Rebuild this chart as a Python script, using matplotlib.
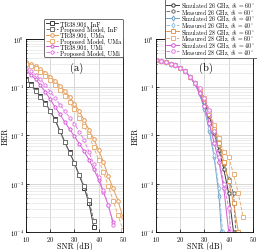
import numpy as np
import matplotlib
matplotlib.use("Agg")
import matplotlib.pyplot as plt

plt.rcParams.update({
    "font.family": "serif",
    "font.serif": ["cmr10", "DejaVu Serif"],
    "mathtext.fontset": "cm",
    "axes.formatter.use_mathtext": True,
    "axes.unicode_minus": False,
})

# ---------------- Panel (a) data ----------------
snr_inf = [10, 12, 14, 16, 18, 20, 22, 24, 26, 28, 30, 32, 34, 36, 38]
log_inf_tr = [-0.83, -0.94, -1.06, -1.19, -1.33, -1.49, -1.67, -1.90, -2.13, -2.35, -2.57, -2.83, -3.08, -3.40, -3.90]
log_inf_pm = [-0.85, -0.96, -1.08, -1.20, -1.34, -1.50, -1.68, -1.91, -2.14, -2.36, -2.58, -2.82, -3.05, -3.33, -3.78]

snr_uma = [10, 12, 14, 16, 18, 20, 22, 24, 26, 28, 30, 32, 34, 36, 38, 40, 42, 44, 46, 48, 50]
log_uma_tr = [-0.48, -0.52, -0.57, -0.63, -0.70, -0.78, -0.87, -0.97, -1.08, -1.20, -1.34, -1.50, -1.68, -1.88, -2.08, -2.30, -2.55, -2.85, -3.10, -3.35, -3.70]
log_uma_pm = [-0.52, -0.56, -0.61, -0.68, -0.76, -0.85, -0.95, -1.06, -1.18, -1.31, -1.46, -1.63, -1.81, -2.01, -2.25, -2.50, -2.76, -3.05, -3.35, -3.65, -3.95]

snr_umi = [10, 12, 14, 16, 18, 20, 22, 24, 26, 28, 30, 32, 34, 36, 38, 40, 42, 44, 46]
log_umi_tr = [-0.66, -0.74, -0.84, -0.96, -1.10, -1.25, -1.41, -1.56, -1.72, -1.87, -2.02, -2.17, -2.33, -2.50, -2.70, -2.92, -3.18, -3.45, -3.80]
log_umi_pm = [-0.60, -0.66, -0.74, -0.84, -0.96, -1.09, -1.22, -1.36, -1.50, -1.63, -1.76, -1.92, -2.10, -2.34, -2.60, -2.87, -3.14, -3.44, -3.86]

# ---------------- Panel (b) data ----------------
snr_b_common = [10, 12, 14, 16, 18, 20, 22, 24, 26]
log_b_common = [-0.44, -0.46, -0.48, -0.51, -0.55, -0.60, -0.67, -0.78, -0.92]

snr_s26_60 = [28, 30, 32, 34, 36, 38, 40, 42]
log_s26_60 = [-1.08, -1.30, -1.60, -1.95, -2.30, -2.70, -3.20, -4.00]
snr_m26_60 = [28, 30, 32, 34, 36, 38, 40, 42, 43]
log_m26_60 = [-1.05, -1.25, -1.55, -1.90, -2.22, -2.60, -2.90, -3.20, -4.00]
snr_s26_40 = [28, 30, 32, 34, 36, 37]
log_s26_40 = [-1.15, -1.45, -1.90, -2.45, -3.25, -4.00]
snr_m26_40 = [28, 30, 32, 34, 36, 37.5]
log_m26_40 = [-1.12, -1.40, -1.85, -2.40, -3.10, -4.00]
snr_s28_60 = [28, 30, 32, 34, 36, 38, 40, 42, 44]
log_s28_60 = [-1.05, -1.25, -1.55, -1.85, -2.15, -2.55, -2.95, -3.40, -4.00]
snr_m28_60 = [28, 30, 32, 34, 36, 38, 40, 42, 44, 46]
log_m28_60 = [-1.03, -1.22, -1.50, -1.78, -2.05, -2.35, -2.45, -2.80, -3.20, -3.70]
snr_s28_40 = [28, 30, 32, 34, 36, 38, 40]
log_s28_40 = [-1.12, -1.40, -1.75, -2.15, -2.55, -3.10, -4.00]
snr_m28_40 = [28, 30, 32, 34, 36, 38, 40, 41]
log_m28_40 = [-1.02, -1.22, -1.48, -1.90, -2.45, -3.00, -3.50, -4.00]

labels_a = ["TR38.901, InF", "Proposed Model, InF", "TR38.901, UMa",
            "Proposed Model, UMa", "TR38.901, UMi", "Proposed Model, UMi"]
labels_b = [r"Simulated 26 GHz, $\vartheta_t$ = 60$^\circ$",
            r"Measured 26 GHz, $\vartheta_t$ = 60$^\circ$",
            r"Simulated 26 GHz, $\vartheta_t$ = 40$^\circ$",
            r"Measured 26 GHz, $\vartheta_t$ = 40$^\circ$",
            r"Simulated 28 GHz, $\vartheta_t$ = 60$^\circ$",
            r"Measured 28 GHz, $\vartheta_t$ = 60$^\circ$",
            r"Simulated 28 GHz, $\vartheta_t$ = 40$^\circ$",
            r"Measured 28 GHz, $\vartheta_t$ = 40$^\circ$"]

BLACK = "#3c3c3c"
GRAY = "#6e6e6e"
ORANGE = "#e59a50"
ORANGE_L = "#eab07a"
MAGENTA = "#d65ad6"
MAGENTA_L = "#e27ee2"
BLUE = "#6fa3c8"
BLUE_L = "#9cc3de"

fig = plt.figure(figsize=(2.57, 2.51), dpi=100)
axa = fig.add_axes([0.101, 0.072, 0.377, 0.769])
axb = fig.add_axes([0.607, 0.072, 0.377, 0.769])

lw = 0.7
ms = 2.6

def plot(ax, x, logy, color, marker, ls, label):
    ax.semilogy(x, 10.0 ** np.asarray(logy), color=color, ls=ls, lw=lw,
                marker=marker, ms=ms, mfc="white", mec=color, mew=0.7,
                label=label)

plot(axa, snr_inf, log_inf_tr, BLACK, "s", "-", labels_a[0])
plot(axa, snr_inf, log_inf_pm, GRAY, "s", "--", labels_a[1])
plot(axa, snr_uma, log_uma_tr, ORANGE, "o", "-", labels_a[2])
plot(axa, snr_uma, log_uma_pm, ORANGE_L, "s", "--", labels_a[3])
plot(axa, snr_umi, log_umi_tr, MAGENTA, "p", "-", labels_a[4])
plot(axa, snr_umi, log_umi_pm, MAGENTA_L, "h", "--", labels_a[5])

def joined(x2, y2):
    return snr_b_common + list(x2), log_b_common + list(y2)

plot(axb, *joined(snr_s26_60, log_s26_60), BLACK, "8", "-", labels_b[0])
plot(axb, *joined(snr_m26_60, log_m26_60), GRAY, "h", "--", labels_b[1])
plot(axb, *joined(snr_s26_40, log_s26_40), BLUE, "d", "-", labels_b[2])
plot(axb, *joined(snr_m26_40, log_m26_40), BLUE_L, "d", "--", labels_b[3])
plot(axb, *joined(snr_s28_60, log_s28_60), ORANGE, "s", "-", labels_b[4])
plot(axb, *joined(snr_m28_60, log_m28_60), ORANGE_L, "s", "--", labels_b[5])
plot(axb, *joined(snr_s28_40, log_s28_40), MAGENTA, "o", "-", labels_b[6])
plot(axb, *joined(snr_m28_40, log_m28_40), MAGENTA_L, "o", "--", labels_b[7])

for ax, tag in ((axa, "(a)"), (axb, "(b)")):
    ax.set_xlim(10, 50)
    ax.set_ylim(1e-4, 1)
    ax.set_xticks([10, 20, 30, 40, 50])
    ax.grid(True, which="major", color="#d0d0d0", lw=0.6)
    ax.grid(True, which="minor", axis="y", color="#e4e4e4", lw=0.5)
    ax.tick_params(which="both", direction="in", labelsize=4.6, length=2, width=0.5, pad=1.5)
    ax.tick_params(which="minor", length=1)
    for s in ax.spines.values():
        s.set_linewidth(0.6)
    ax.set_xlabel("SNR (dB)", fontsize=5.8, va="center")
    ax.xaxis.set_label_coords(0.5, -0.071)
    ax.set_ylabel("BER", fontsize=5.8, labelpad=0)
    ax.text(0.52, 0.855, tag, transform=ax.transAxes, fontsize=7.5,
            ha="center", va="center")

common = dict(loc="upper right", handletextpad=0.3, borderpad=0.25,
              borderaxespad=0.0, framealpha=1, fancybox=True)
lega = axa.legend(bbox_to_anchor=(1.0, 1.104), fontsize=4.5, labelspacing=-0.08,
                  handlelength=2.0, **common)
legb = axb.legend(bbox_to_anchor=(1.04, 1.207), fontsize=4.2, labelspacing=-0.5,
                  handlelength=2.2, **common)
for leg in (lega, legb):
    leg.get_frame().set_linewidth(0.6)
    leg.get_frame().set_edgecolor("#555555")

fig.savefig("out.png", dpi=100)
